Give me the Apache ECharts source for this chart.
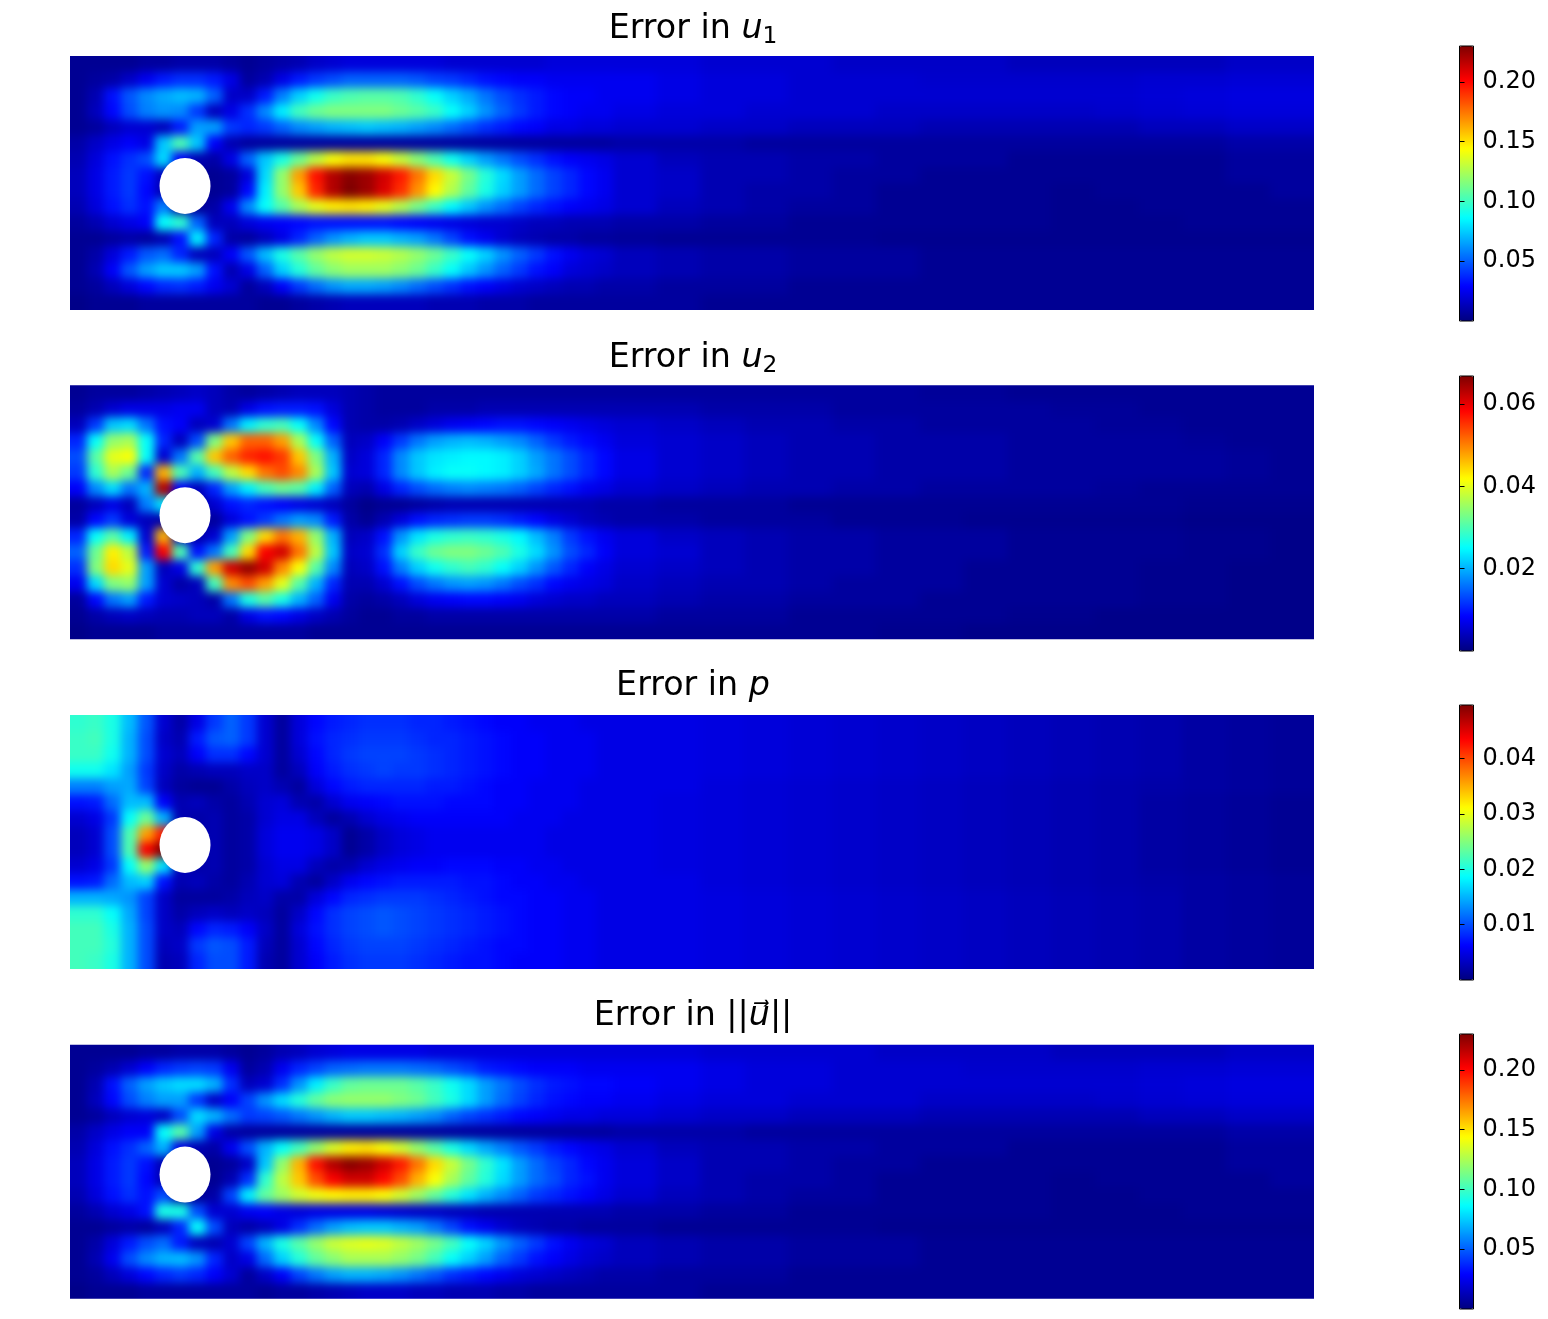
<!DOCTYPE html>
<html><head><meta charset="utf-8">
<style>html,body{margin:0;padding:0;background:#fff}#c{width:1548px;height:1319px}</style>
<script src="https://cdn.jsdelivr.net/npm/echarts@6/dist/echarts.min.js"></script>
</head><body><div id="c"></div>
<script>
// Values are percent of each panel's colour-bar maximum; rows run top to bottom.
const errU1 = [
[2,2,2,2,3,3,4,4,4,3,2,3,4,5,7,8,9,9,9,9,9,9,8,8,8,8,8,8,9,9,9,9, 9,9,8,8,8,7,7,7,7,6,6,6,6,6,7,7],
[2,3,4,7,11,15,17,17,15,10,3,5,10,15,18,20,22,22,22,22,21,19,18,16,14,13,12,12,11,11,11,11, 11,10,9,9,8,8,8,7.5,7.5,7.5,7.5,7.5,8,8,8.5,8.5],
[2,5,14,21,26,29,31,30,22,7,7,15,25,33,39,43,45,46,46,45,42,38,33,29,24,20,17,15,13,12,12,11, 11,10,9,9,8,8,8,8,8,8,8,8,8.5,9,9.5,9.5],
[2,6,13,20,25,27,26,18,6,10,17,26,36,44,48,50,50,50,50,48,46,43,38,33,27,22,18,15,13,12,11,11, 10,9,9,8,8,8,7,7,7,7,7,7.5,8,8.5,9,9],
[2,3,6,8,8,6,15,28,28,18,16,18,22,26,28,30,31,32,31,30,28,26,23,20,17,15,13,12,10,10,9,9, 8,8,7,7,6,6,6,5,5,5,5,5,6,6,7,7],
[4,7,10,12,10,32,45,32,12,5,3,3,3,3,3,3,3,3,3,3,3,3,3,3,3,3,3,3,3,3,3,3, 4,4,4,3,3,3,3,3,3,3,3,3,3,3,4,4],
[5,9,14,17,20,34,12,5,4,10,22,32,40,48,56,62,65,65,62,57,51,45,39,33,28,24,20,17,14,12,11,10, 8,6,5,5,4,4,3,3,3,2,2,2,2,2,3,3],
[6,10,15,18,14,6,2,2,2,3,9,34,52,72,86,95,99,97,92,85,76,66,57,49,41,34,28,23,19,16,13,11, 8,7,5,5,4,3,3,2,2,2,2,2,2,2,3,3],
[6,10,15,18,13,5,2,2,2,3,13,36,52,68,84,95,100,97,91,83,73,63,55,47,40,33,28,23,19,16,13,11, 8,7,5,4,4,3,2,2,2,2,1.5,2,2,2,2,3],
[5,9,14,17,14,25,3,2,4,11,26,38,46,54,60,64,65,64,60,55,49,43,37,32,27,23,19,16,14,12,11,10, 8,6,5,4,3,3,2,2,2,2,1.5,1.5,2,2,2,2],
[3,5,8,10,12,38,42,22,6,6,9,11,12,13,14,14,14,14,14,13,12,11,10,9,8,8,7,6,6,5,5,5, 4,4,3,3,2,2,2,2,2,2,1.5,1.5,1.5,2,2,2],
[2,2,3,4,3,5,14,36,16,4,3,6,10,16,22,27,30,32,32,30,28,24,19,14,11,8,6,5,4,4,3,3, 2.5,2,2,2,2,2,1.5,1.5,1.5,1.5,1.5,1.5,1.5,1.5,1.5,1.5],
[2,4,9,15,21,23,16,6,6,12,21,31,40,46,52,56,58,58,57,55,52,48,43,38,33,27,22,18,14,11,9,8, 6,5,4,4,3,3,3,2,2,2,2,2,2,2,2,2],
[2,5,12,21,28,32,32,28,14,5,10,22,33,41,47,51,53,53,53,51,48,43,38,32,27,22,18,14,12,9,8,7, 6,5,4,4,3,3,3,2,2,2,2,2,2,2,2,2],
[2,3,6,9,13,16,17,15,11,8,3,6,12,18,23,27,29,29,28,26,23,20,17,14,12,10,8,7,6,5,5,4, 4,3,3,3,2,2,2,2,2,2,2,2,2,2,2,2],
[1,2,2,2,3,3,3,3,3,3,3,2,2,3,4,5,6,6,6,6,6,5,5,5,4,4,4,3,3,3,3,3, 3,3,2,2,2,2,2,2,2,2,2,2,2,2,2,2]
];
const errU2 = [
[2,3,3,3,4,5,6,7,6,4,3,4,5,6,6,6,5,4,3,3,3,3,3,3,3,3,3,3,3,3,3,3, 3,3,3,3,3,3,3,2.5,2.5,2,2,2,2,2,2,2],
[3,5,8,10,10,10,11,11,6,5,10,14,15,15,14,9,5,4,3,3,3,4,4,4,5,5,5,5,5,5,5,5, 5,5,4,4,4,3,3,3,3,3,2.5,2.5,2,2,2,2],
[6,18,32,34,24,14,12,6,8,24,36,42,44,38,26,13,5,4,4,5,7,9,11,12,13,14,14,13,12,11,10,9, 8,7,6,5,5,4,4,3,3,3,3,2.5,2.5,2,2,2],
[16,38,52,54,38,16,6,20,50,68,78,78,72,54,38,22,6,7,12,18,24,28,30,31,30,28,26,22,18,15,13,11, 9,8,7,6,5,5,4,4,4,3,3,3,3,2.5,2,2],
[20,46,60,62,38,8,24,46,68,78,84,86,82,68,50,30,7,9,16,26,32,35,36,37,37,36,33,28,24,20,16,13, 10,8,7,6,5,5,4,4,4,3,3,3,3,3,2.5,2],
[18,42,54,48,16,70,45,30,44,56,66,76,80,74,54,32,8,9,16,26,32,36,38,38,37,36,33,29,24,20,16,13, 10,8,7,6,5,5,4,4,4,3,3,3,3,3,2.5,2],
[12,26,34,24,30,95,12,6,16,28,36,44,48,46,36,22,6,5,10,16,20,23,25,26,25,24,22,19,16,14,11,10, 8,7,6,5,5,4,4,3,3,3,3,2.5,2,2,2,2],
[3,6,10,6,25,35,2,2,8,14,16,14,12,10,8,6,3,1,2,2,3,4,5,5,5,5,5,5,5,5,5,4, 4,3,3,3,2,2,2,2,2,2,2,2,2,1.5,1.5,1.5],
[4,13,18,9,6,4,2,2,3,9,14,18,24,28,26,15,4,2,5,9,14,16,17,18,18,17,15,13,10,8,6,5, 4,4,3,3,3,2,2,2,1.5,1.5,1.5,1.5,1.5,1,1,1],
[16,38,46,36,8,70,6,4,8,28,50,66,76,70,52,30,6,7,14,27,35,40,42,43,42,40,37,31,25,18,14,11, 9,7,6,5,4,4,3,3,3,2,2,2,2,1.5,1.5,1],
[22,48,64,56,15,88,45,14,24,44,66,88,92,76,56,32,7,8,17,33,43,48,50,50,48,45,40,34,27,20,16,12, 9,8,6,5,4,4,3,3,3,2,2,2,2,1.5,1.5,1],
[17,50,66,60,28,6,10,42,72,92,98,92,74,62,46,26,6,7,14,25,33,39,42,44,42,38,33,27,21,16,12,10, 8,7,6,5,4,4,3,3,2,2,2,2,1.5,1.5,1,1],
[11,34,50,52,28,8,4,6,44,74,80,72,60,46,30,16,5,5,8,14,20,24,27,28,27,24,20,17,13,11,10,9, 7,6,5,5,4,3,3,3,2,2,2,2,1.5,1.5,1,1],
[3,13,24,28,15,8,7,6,4,24,40,46,40,30,22,11,4,3,4,6,9,11,12,13,13,12,11,9,8,7,7,6, 6,5,4,4,3,3,3,2,2,2,2,2,1.5,1.5,1,1],
[2,4,6,7,6,5,5,6,6,4,10,14,13,10,7,5,3,2,2,3,3,4,4,4,4,4,4,4,4,4,4,4, 4,3,3,3,2,2,2,2,2,1.5,1.5,1,1,1,1,1],
[1,2,2,2,2,3,3,3,3,3,3,3,3,3,2,2,2,2,2,2,2,2,2,2,2,2,2,2,2,2,2,2, 2,2,2,2,2,2,1.5,1.5,1,1,1,1,1,1,1,1]
];
const errP = [
[42,43,40,31,21,8,4,10,18,22,18,8,3,9,13,15,16,17,17,17,16,16,15,14,13,12,12,11,11,11,10,10, 10,10,9.5,9,8.5,8,7.5,7,6.5,6,5.5,5,4.5,3.5,3,2.5],
[43,44,40,30,20,7,5,15,21,22,18,8,3,9,14,16,17,18,18,18,17,16,16,15,14,13,12,12,11,11,11,10, 10,10,9.5,9,8.5,8,7.5,7,6.5,6,5.5,5,4.5,3.5,3,2.5],
[43,43,39,30,20,8,6,12,17,17,13,8,3,8,13,16,18,19,19,19,18,17,16,15,14,13,12,12,11,11,11,10, 10,10,9.5,9,8.5,8,7.5,7,6.5,6,5.5,5,4.5,3.5,3,2.5],
[39,39,35,28,18,7,4,5,6,6,7,7,3,6,12,15,17,18,19,18,18,17,16,15,14,13,12,12,11,11,11,10, 10,10,9.5,9,8.5,8,7.5,7,6.5,6,5.5,5,4.5,3.5,3,2.5],
[25,25,28,29,19,6,3,2,2,4,6,7,5,3,9,13,15,16,16,16,16,15,15,14,13,12,12,11,11,11,10,10, 10,10,9,8.5,8,7.5,7,6.5,6,5.5,5,4.5,4,3.5,3,2.5],
[14,15,23,31,31,12,5,6,4,3,5,8,9,5,4,8,11,12,13,14,14,14,13,13,13,12,12,11,11,11,10,10, 10,9.5,9,8.5,8,7.5,7,6.5,6,5.5,5,4.5,3.5,3,2.5,2],
[8,10,18,38,48,30,5,4,5,3,4,8,10,10,6,3,5,8,10,11,12,12,12,12,12,12,11,11,11,10,10,10, 10,9.5,9,8.5,8,7.5,7,6.5,6,5.5,5,4.5,3.5,3,2.5,2],
[6,8,20,45,72,85,5,4,5,3,4,9,11,11,10,7,2,4,7,9,10,11,11,11,11,11,11,11,10,10,10,10, 10,9.5,9,8.5,8,7.5,7,6.5,6,5.5,5,4.5,3.5,3,2.5,2],
[6,8,20,45,88,100,5,4,5,3,4,9,11,11,10,7,2,4,7,9,10,11,11,11,11,11,11,11,10,10,10,10, 10,9.5,9,8.5,8,7.5,7,6.5,6,5.5,5,4.5,3.5,3,2.5,2],
[8,10,18,38,52,35,6,4,5,3,4,8,10,10,6,4,5,8,10,11,12,12,13,13,13,12,12,11,11,10,10,10, 10,9.5,9,8.5,8,7.5,7,6.5,6,5.5,5,4.5,3.5,3,2.5,2],
[14,15,23,31,33,14,5,6,4,3,5,8,9,5,3,7,11,13,14,15,15,15,15,14,14,13,12,12,11,11,10,10, 10,10,9,8.5,8,7.5,7,6.5,6,5.5,5,4.5,4,3.5,3,2.5],
[30,30,29,27,19,7,3,3,3,4,6,7,4,4,9,13,16,17,18,18,18,17,16,15,14,13,13,12,12,11,11,10, 10,10,9.5,9,8.5,8,7.5,7,6.5,6,5.5,5,4.5,3.5,3,2.5],
[42,42,38,29,19,7,4,6,7,6,7,6,3,7,13,17,19,20,21,20,19,18,17,16,15,14,13,12,12,11,11,10, 10,10,9.5,9,8.5,8,7.5,7,6.5,6,5.5,5,4.5,3.5,3,2.5],
[44,44,40,30,20,7,6,13,16,15,12,7,3,9,14,17,19,20,21,20,19,18,17,16,15,14,13,12,12,11,11,10, 10,10,9.5,9,8.5,8,7.5,7,6.5,6,5.5,5,4.5,3.5,3,2.5],
[44,44,41,30,20,6,7,18,21,20,15,6,3,8,13,16,18,19,19,19,18,17,16,15,14,13,13,12,12,11,11,10, 10,10,9.5,9,8.5,8,7.5,7,6.5,6,5.5,5,4.5,3.5,3,2.5],
[44,43,40,30,20,5,6,16,20,20,15,5,3,8,12,15,17,18,18,18,17,16,15,14,14,13,12,12,12,11,11,10, 10,10,9.5,9,8.5,8,7.5,7,6.5,6,5.5,5,4.5,3.5,3,2.5]
];
const errNorm = [
[2,2,2,2,3,3,4,4,4,3,2,3,5,6,8,9,10,10,10,10,10,9,9,9,9,9,9,9,9,9,9,9, 9,9,8,8,8,8,7,7,7,7,6,6,6,6,7,7],
[2,3,5,8,12,16,18,19,18,11,3,5,11,16,19,22,23,24,24,24,23,22,20,18,15,14,13,12,12,12,11,11, 11,11,10,9,9,8,8,8,7.5,7.5,7.5,7.5,8,8,8.5,8.5],
[2,5,14,22,28,32,34,34,30,17,6,8,17,27,36,43,47,48,48,48,46,43,39,34,28,24,20,17,15,14,13,13, 12,11,10,9,9,8,8,8,8,8,8,8,8.5,9,9.5,9.5],
[2,6,13,20,25,28,28,18,7,12,19,27,34,41,47,51,52,52,52,50,48,44,40,34,28,23,19,16,14,13,12,12, 11,10,9,9,8,8,8,7,7,7,7,7.5,8,8.5,9,9],
[2,3,6,8,9,7,20,34,30,23,18,19,21,24,27,30,32,32,31,30,28,26,22,19,17,15,13,12,11,10,10,9, 9,8,7,7,6,6,6,5,5,5,5,5,6,6,7,7],
[4,7,10,12,12,38,46,28,10,4,3,3,3,3,3,3,3,3,3,3,3,3,3,3,3,3,3,3,3,3,3,3, 4,4,4,3,3,3,3,3,3,3,3,3,3,3,4,4],
[5,9,14,17,22,30,10,5,4,11,20,30,38,44,52,59,64,65,62,58,52,46,40,34,29,25,21,18,15,13,11,10, 8,6,5,5,4,4,3,3,3,2,2,2,2,2,3,3],
[6,10,15,18,14,5,2,2,2,3,7,32,52,70,86,95,99,97,92,85,76,66,57,49,42,35,28,23,19,16,13,11, 9,7,5,5,4,3,3,2,2,2,2,2,2,2,3,3],
[6,10,15,18,13,5,2,2,2,5,17,42,56,68,80,88,92,92,87,80,70,62,54,47,41,34,28,23,20,16,14,11, 9,7,5,4,4,3,2,2,2,2,1.5,2,2,2,2,3],
[5,9,14,17,14,20,3,2,4,19,36,47,53,58,61,63,64,64,62,58,53,47,41,35,30,26,22,18,16,14,12,10, 8,6,5,4,3,3,2,2,2,2,1.5,1.5,2,2,2,2],
[3,5,8,10,14,40,40,20,8,8,11,12,10,9,10,10,10,10,9,8,7,7,6,6,5,5,5,5,5,5,5,5, 4,4,3,3,2,2,2,2,2,2,1.5,1.5,1.5,2,2,2],
[2,2,3,4,3,6,16,38,20,6,4,6,10,17,23,28,31,32,32,30,28,24,19,14,11,8,6,5,4,4,3,3, 3,2,2,2,2,2,1.5,1.5,1.5,1.5,1.5,1.5,1.5,1.5,1.5,1.5],
[2,4,9,15,20,23,15,6,5,8,19,30,40,46,52,57,59,60,59,56,53,49,44,38,33,27,22,18,14,11,9,8, 6,5,4,4,3,3,3,2,2,2,2,2,2,2,2,2],
[2,5,11,20,26,30,31,27,16,7,10,23,33,41,47,51,54,54,54,52,49,44,38,33,28,22,18,14,12,10,8,7, 6,5,4,4,3,3,3,2,2,2,2,2,2,2,2,2],
[2,3,6,9,13,16,18,16,12,8,3,7,12,19,24,28,30,30,29,27,24,21,17,15,13,11,9,8,7,6,5,4, 4,3,3,3,2,2,2,2,2,2,2,2,2,2,2,2],
[1,2,2,2,3,3,3,3,3,3,3,2,3,3,4,5,6,7,7,7,6,6,5,5,5,4,4,3,3,3,3,3, 3,3,2,2,2,2,2,2,2,2,2,2,2,2,2,2]
];
const maxU1 = 0.23, maxU2 = 0.0668, maxP = 0.0497, maxNorm = 0.23;
const ticksU1 = [0.05,0.10,0.15,0.20];
const ticksU2 = [0.02,0.04,0.06];
const ticksP = [0.01,0.02,0.03,0.04];
const ticksNorm = [0.05,0.10,0.15,0.20];
const JET = ['#00007f','#0000ff','#007fff','#00ffff','#7fff7f','#ffff00','#ff7f00','#ff0000','#7f0000'];
const FONT = '"DejaVu Sans"';
const DOMAIN_X = 2.2, DOMAIN_Y = 0.41, CYL_X = 0.2034, CYL_Y = 0.2003;

// Physical column edges: fine near the cylinder, coarser downstream; 16 equal rows.
const xEdges = [];
for (let i = 0; i <= 32; i++) xEdges.push(i * 0.03);
for (let i = 1; i <= 16; i++) xEdges.push(0.96 + i * 0.0775);
const yEdges = [];
for (let j = 0; j <= 16; j++) yEdges.push(DOMAIN_Y - j * DOMAIN_Y / 16);

const panels = [
  {rows: errU1, max: maxU1, ticks: ticksU1, digits: 2, top: 56, barTop: 46, rich: 'Error in {i|u}{s|1}'},
  {rows: errU2, max: maxU2, ticks: ticksU2, digits: 2, top: 385.3, barTop: 376, rich: 'Error in {i|u}{s|2}'},
  {rows: errP, max: maxP, ticks: ticksP, digits: 2, top: 715, barTop: 705, rich: 'Error in {i|p}'},
  {rows: errNorm, max: maxNorm, ticks: ticksNorm, digits: 2, top: 1044.7, barTop: 1034, rich: 'Error in ||{i|u\u20D7}||'}
];
const PW = 1244, PH = 254, PL = 70, BLEED = 30;

function cellData(p) {
  const d = [];
  p.rows.forEach((row, j) => {
    if (row.length !== 48) console.error('row', j, row.length);
    row.forEach((v, i) => d.push([(xEdges[i]+xEdges[i+1])/2, (yEdges[j]+yEdges[j+1])/2, v*p.max/100, i, j]));
  });
  return d;
}
function renderCell(params, api) {
  const i = api.value(3), j = api.value(4);
  const a = api.coord([xEdges[i], yEdges[j]]), b = api.coord([xEdges[i+1], yEdges[j+1]]);
  let x0 = a[0], x1 = b[0] + 1, y0 = a[1], y1 = b[1] + 1;
  if (i === 0) x0 -= BLEED;
  if (i === 47) x1 += BLEED;
  if (j === 0) y0 -= BLEED;
  if (j === 15) y1 += BLEED;
  return {type: 'rect', shape: {x: x0, y: y0, width: x1 - x0, height: y1 - y0}, style: {fill: api.visual('color')}};
}

const option = {animation: false, backgroundColor: '#fff', title: [], grid: [], xAxis: [], yAxis: [], visualMap: [], series: []};
panels.forEach((p, k) => {
  option.title.push({
    text: p.rich, left: 688, top: p.top - 50, textAlign: 'center',
    textStyle: {fontFamily: FONT, fontSize: 33.3, fontWeight: 'normal', color: '#000',
      rich: {i: {fontFamily: FONT, fontStyle: 'italic', fontSize: 33.3, color: '#000'},
             s: {fontFamily: FONT, fontSize: 23.3, color: '#000', verticalAlign: 'bottom', padding: [14, 0, 0, 0]}}}
  });
  // field panel
  option.grid.push({left: PL, top: p.top, width: PW, height: PH, show: false});
  option.xAxis.push({type: 'value', gridIndex: 2*k, min: 0, max: DOMAIN_X, show: false});
  option.yAxis.push({type: 'value', gridIndex: 2*k, min: 0, max: DOMAIN_Y, show: false});
  // colour-bar axis
  option.grid.push({left: 1459.5, top: p.barTop, width: 14, height: 275, show: true, z: 20,
    backgroundColor: 'transparent', borderColor: '#000', borderWidth: 1});
  option.xAxis.push({type: 'value', gridIndex: 2*k+1, min: 0, max: 1, show: false});
  option.yAxis.push({type: 'value', gridIndex: 2*k+1, position: 'right', min: 0, max: p.max, z: 20,
    splitLine: {show: false}, axisLine: {show: false},
    axisTick: {show: true, length: 5, lineStyle: {color: '#000', width: 1}, customValues: p.ticks},
    axisLabel: {show: true, margin: 9, fontFamily: FONT, fontSize: 24, color: '#000', padding: [4,0,0,0],
      customValues: p.ticks, formatter: v => v.toFixed(p.digits)}});
  const sIdx = option.series.length;
  option.series.push({type: 'custom', xAxisIndex: 2*k, yAxisIndex: 2*k, coordinateSystem: 'cartesian2d',
    zlevel: 1, silent: true, progressive: 0, clip: false, renderItem: renderCell, data: cellData(p),
    dimensions: ['x','y','err','col','row'], encode: {x: 0, y: 1}});
  option.series.push({type: 'scatter', xAxisIndex: 2*k, yAxisIndex: 2*k, zlevel: 2, silent: true, clip: false,
    symbol: 'circle', symbolSize: [51, 56], itemStyle: {color: '#fff', opacity: 1}, data: [[CYL_X, CYL_Y]]});
  option.visualMap.push({type: 'continuous', seriesIndex: sIdx, dimension: 2, min: 0, max: p.max,
    left: 1459.5, top: p.barTop, itemWidth: 14, itemHeight: 275, text: null, calculable: false, hoverLink: false,
    orient: 'vertical', padding: 0, inRange: {color: JET}});
});

const chart = echarts.init(document.getElementById('c'), null, {renderer: 'canvas', width: 1548, height: 1319});
chart.setOption(option);
// smooth the coarse cells and trim the smoothing to the panel rectangles
const layer = chart.getZr().painter.getLayer(1);
const clip = panels.map(p => `M${PL} ${p.top}H${PL+PW}V${p.top+PH}H${PL}Z`).join(' ');
layer.dom.style.filter = 'blur(5px)';
layer.dom.style.clipPath = `path('${clip}')`;
</script></body></html>
